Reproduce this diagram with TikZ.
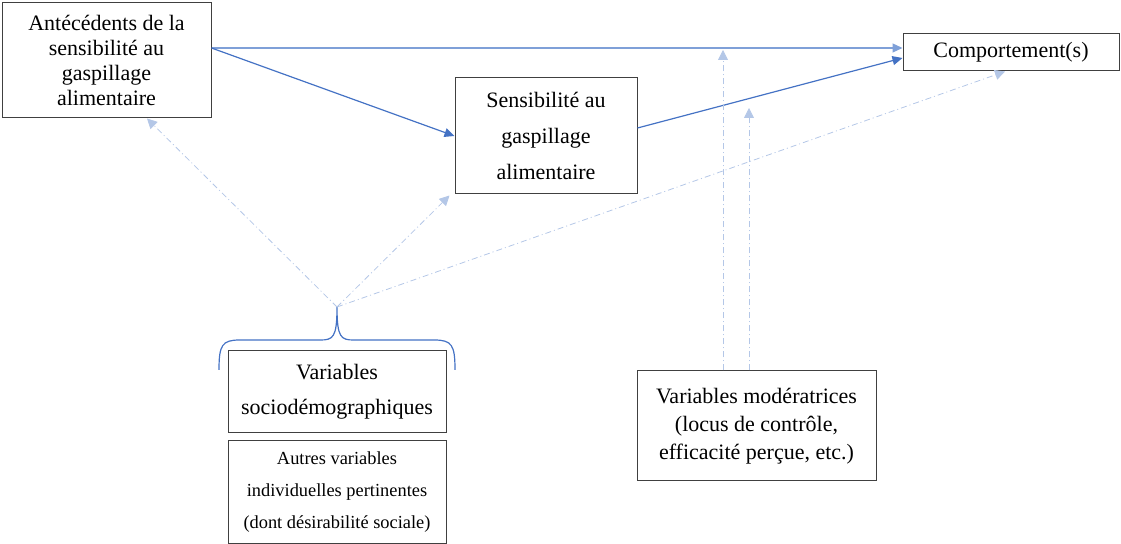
\documentclass[tikz,border=0pt]{standalone}
\usepackage{fontspec}
\setmainfont{LiberationSerif}[Extension=.ttf,UprightFont=*-Regular,BoldFont=*-Bold]
\usetikzlibrary{arrows.meta}
\usetikzlibrary{calc}
\definecolor{bleu}{RGB}{68,114,196}
\definecolor{bleuclair}{RGB}{127,160,216}
\definecolor{bleupale}{RGB}{180,199,231}

\begin{document}
\begin{tikzpicture}[x=0.5pt,y=-0.5pt,
	boite/.style={draw=black!75,line width=0.5pt,align=center,inner sep=0pt,font=\fontsize{11}{12.5}\selectfont},
	fleche/.style={bleu,line width=0.6pt,-{Triangle[length=5pt,width=4.5pt]}},
	pointille/.style={bleupale,line width=0.4pt,dash pattern=on 3pt off 1.5pt on 0.5pt off 1.5pt,-{Triangle[length=5pt,width=5pt]}}]
	\useasboundingbox (0,0) rectangle (1121,544);
	\node[boite,minimum width=104.5pt,minimum height=57.5pt] (antec) at (106.5,60.5) {Antécédents de la\\sensibilité au\\gaspillage\\alimentaire};
	\node[boite,minimum width=91pt,minimum height=58pt,font=\fontsize{11}{18}\selectfont] (sensib) at (546,136) {Sensibilité au\\gaspillage\\alimentaire};
	\node[boite,minimum width=108pt,minimum height=18.5pt] (comport) at (1011,52.5) {Comportement(s)};
	\node[boite,minimum width=109pt,minimum height=41pt,font=\fontsize{11}{17.5}\selectfont] (sociodemo) at (337,392) {Variables\\sociodémographiques};
	\node[boite,minimum width=109pt,minimum height=51.5pt,font=\fontsize{9.2}{16}\selectfont] (autres) at (337,492.5) {Autres variables\\individuelles pertinentes\\(dont désirabilité sociale)};
	\node[boite,minimum width=119.5pt,minimum height=55pt,font=\fontsize{11}{14}\selectfont] (moder) at (756.5,426) {Variables modératrices\\(locus de contrôle,\\efficacité perçue, etc.)};
	% accolade
	\coordinate (pointe) at (337,307);
	\draw[bleu,line width=0.6pt] (219,370) .. controls (219,345) and (222,340) .. (240,340) -- (320,340) .. controls (333,340) and (337,338) .. (pointe) .. controls (337,338) and (341,340) .. (354,340) -- (434,340) .. controls (452,340) and (455,345) .. (455,370);
	% liens directs
	\draw[fleche,bleuclair] ([yshift=6.25pt]antec.east) -- ([yshift=2.25pt]comport.west);
	\draw[fleche] ([yshift=6.25pt]antec.east) -- (sensib.west);
	\draw[fleche] ([yshift=4pt]sensib.east) -- ([yshift=-2.75pt]comport.west);
	% variables de controle
	\draw[pointille] (pointe) -- ([xshift=20.25pt]antec.south);
	\draw[pointille] (pointe) -- ([xshift=-2.5pt,yshift=-0.5pt]sensib.south west);
	\draw[pointille] (pointe) -- ([xshift=-3pt]comport.south);
	% moderateurs
	\coordinate (m1) at (723,50);
	\coordinate (m2) at (749,108);
	\draw[pointille] (moder.north -| m1) -- (m1);
	\draw[pointille] (moder.north -| m2) -- (m2);
\end{tikzpicture}
\end{document}
